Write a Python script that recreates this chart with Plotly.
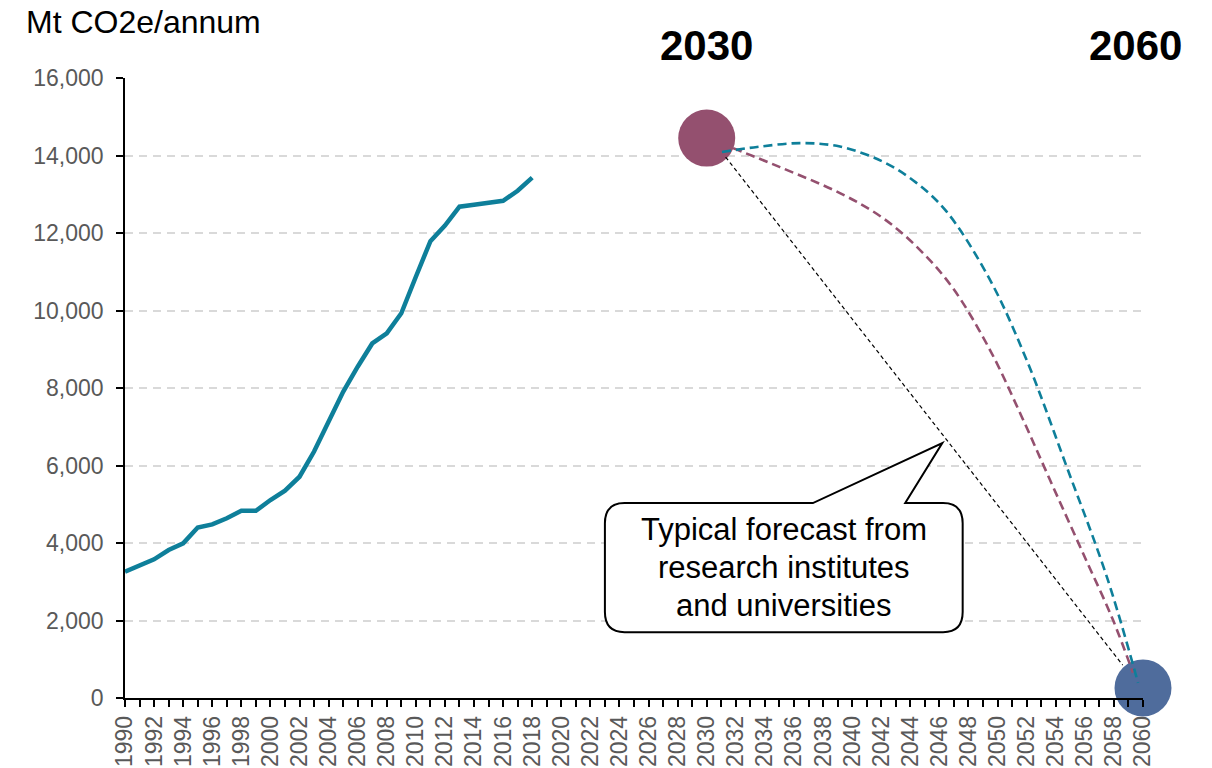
import plotly.graph_objects as go

# ---------------- data ----------------
hist_years = list(range(1990, 2019))
hist_values = [3260, 3430, 3580, 3820, 3990, 4400, 4480, 4640, 4830, 4830,
               5110, 5350, 5710, 6360, 7130, 7900, 8550, 9150, 9410, 9930,
               10870, 11790, 12190, 12680, 12730, 12790, 12830, 13090, 13430]

teal_years = [2031.05, 2033.46, 2036.41, 2039.16, 2042.12, 2044.4, 2046.50,
              2049.48, 2052.00, 2054.75, 2057.52, 2059.66]
teal_values = [14090, 14220, 14320, 14230, 13840, 13300, 12550,
               10790, 8720, 5970, 3120, 390]

purple_years = [2031.81, 2035.04, 2039.16, 2042.14, 2044.67, 2046.96,
                2049.48, 2051.66, 2053.60, 2055.87, 2057.94, 2059.31]
purple_values = [14190, 13700, 13030, 12380, 11560, 10560,
                 8980, 7260, 5630, 3740, 2010, 650]

straight_years = [2031.3, 2058.6]
straight_values = [13960, 850]

milestone_years = [2030, 2060]
milestone_values = [14450, 260]
milestone_labels = ["2030", "2060"]

y_ticks = [0, 2000, 4000, 6000, 8000, 10000, 12000, 14000, 16000]

callout_lines = ["Typical forecast from", "research institutes", "and universities"]
y_title = "Mt CO2e/annum"

# ---------------- styles ----------------
TEAL = "#0E7F9A"
PURPLE = "#94506F"
BLUE = "#4F6C9C"
GRAY = "#595959"
FONT = "Liberation Sans, Arial, sans-serif"

fig = go.Figure()

# milestone circles (drawn first, lines overlay them)
fig.add_trace(go.Scatter(
    x=[milestone_years[0]], y=[milestone_values[0]], mode="markers",
    marker=dict(size=57, color=PURPLE, line=dict(width=0)),
    cliponaxis=False, showlegend=False, hoverinfo="skip"))
fig.add_trace(go.Scatter(
    x=[milestone_years[1]], y=[milestone_values[1]], mode="markers",
    marker=dict(size=57, color=BLUE, line=dict(width=0)),
    cliponaxis=False, showlegend=False, hoverinfo="skip"))

# historic emissions
fig.add_trace(go.Scatter(
    x=hist_years, y=hist_values, mode="lines",
    line=dict(color=TEAL, width=4.5), showlegend=False))

# forecast curves
fig.add_trace(go.Scatter(
    x=straight_years, y=straight_values, mode="lines",
    line=dict(color="black", width=1.2, dash="4px,3px"),
    cliponaxis=False, showlegend=False))
fig.add_trace(go.Scatter(
    x=purple_years, y=purple_values, mode="lines",
    line=dict(color=PURPLE, width=2.6, dash="9px,5px", shape="spline", smoothing=1.0),
    cliponaxis=False, showlegend=False))
fig.add_trace(go.Scatter(
    x=teal_years, y=teal_values, mode="lines",
    line=dict(color=TEAL, width=2.6, dash="9px,5px", shape="spline", smoothing=1.0),
    cliponaxis=False, showlegend=False))

# callout box (speech bubble) in data coordinates
x0, x1 = 2023.0, 2047.6
yb, yt = 1700, 5030
tail_a, tail_b = 2037.3, 2043.65
tip_x, tip_y = 2046.2, 6580
rx, ry = 1.35, 520
path = (f"M {x0+rx},{yt} L {tail_a},{yt} L {tip_x},{tip_y} L {tail_b},{yt} "
        f"L {x1-rx},{yt} Q {x1},{yt} {x1},{yt-ry} L {x1},{yb+ry} "
        f"Q {x1},{yb} {x1-rx},{yb} L {x0+rx},{yb} Q {x0},{yb} {x0},{yb+ry} "
        f"L {x0},{yt-ry} Q {x0},{yt} {x0+rx},{yt} Z")
fig.add_shape(type="path", path=path, xref="x", yref="y",
              fillcolor="white", line=dict(color="black", width=2), layer="above")
line_gap = 980  # data units between text baselines
mid = (yb + yt) / 2
for i, txt in enumerate(callout_lines):
    fig.add_annotation(x=(x0 + x1) / 2, y=mid + (1 - i) * line_gap, xref="x", yref="y",
                       text=txt, showarrow=False,
                       font=dict(family=FONT, size=31, color="black"),
                       align="center", xanchor="center", yanchor="middle")

# headings
fig.add_annotation(x=-0.099, y=1.09, xref="paper", yref="paper",
                   text=y_title, showarrow=False, xanchor="left", yanchor="middle",
                   font=dict(family=FONT, size=32, color="black"))
fig.add_annotation(x=milestone_years[0], y=1.053, xref="x", yref="paper",
                   text=f"<b>{milestone_labels[0]}</b>", showarrow=False,
                   xanchor="center", yanchor="middle",
                   font=dict(family=FONT, size=42, color="black"))
fig.add_annotation(x=milestone_years[1] - 0.5, y=1.053, xref="x", yref="paper",
                   text=f"<b>{milestone_labels[1]}</b>", showarrow=False,
                   xanchor="center", yanchor="middle",
                   font=dict(family=FONT, size=42, color="black"))

fig.update_layout(
    width=1212, height=768,
    margin=dict(l=125, r=69, t=78, b=70),
    paper_bgcolor="white", plot_bgcolor="white",
    font=dict(family=FONT),
    showlegend=False,
    xaxis=dict(
        range=[1990, 2060], tick0=1990, dtick=2, tickangle=-90,
        ticks="outside", ticklen=7, tickwidth=1.5, tickcolor="black",
        showline=True, linecolor="black", linewidth=1.5,
        showgrid=False, zeroline=False, automargin=False,
        tickfont=dict(family=FONT, size=23, color=GRAY),
        minor=dict(dtick=1, ticks="outside", ticklen=7, tickwidth=1.5,
                   tickcolor="black", showgrid=False),
    ),
    yaxis=dict(
        range=[0, 16000], tickvals=y_ticks,
        ticktext=[f"{v:,}" for v in y_ticks],
        ticks="outside", ticklen=7, tickwidth=1.5, tickcolor="black",
        showline=True, linecolor="black", linewidth=1.5,
        showgrid=True, gridcolor="#D9D9D9", gridwidth=1.5, griddash="8px,6px",
        zeroline=False, automargin=False, ticklabelstandoff=8,
        tickfont=dict(family=FONT, size=23, color=GRAY),
    ),
)

fig.write_html("out.html")
